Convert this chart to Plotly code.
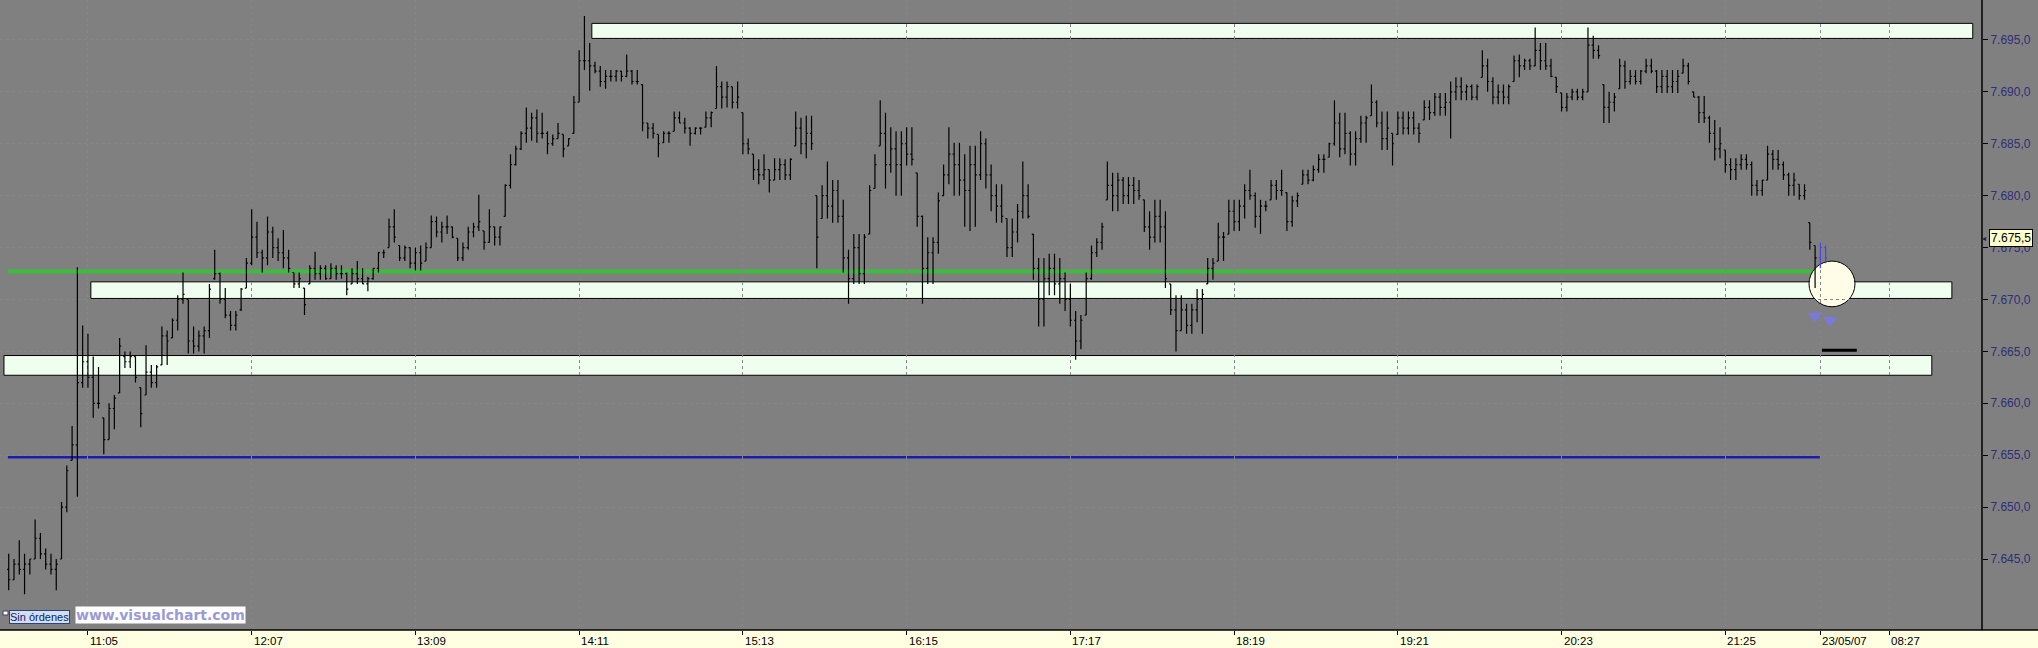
import plotly.graph_objects as go

# ---------------- data (2-minute bars, minutes since 11:05) ----------------
OPEN = [
7644.0,7643.0,7644.5,7644.0,7644.5,7645.0,7647.0,7645.5,7644.5,7644.0,
7645.0,7650.0,7654.5,7656.0,7662.0,7664.0,7662.5,7660.0,7658.6,7656.5,
7659.5,7661.0,7664.5,7664.0,7664.5,7661.5,7660.8,7663.0,7662.0,7663.7,
7666.5,7666.3,7668.0,7670.0,7670.0,7666.0,7665.5,7666.5,7667.0,7672.0,
7672.5,7670.0,7668.5,7667.5,7669.0,7671.1,7673.5,7676.0,7674.5,7674.0,
7676.5,7675.0,7674.5,7674.0,7672.6,7671.5,7671.1,7671.5,7673.0,7672.5,
7673.0,7672.0,7673.0,7672.5,7672.5,7671.5,7672.5,7672.0,7671.5,7672.0,
7673.0,7674.5,7675.0,7677.0,7675.2,7674.0,7675.0,7673.5,7674.5,7673.7,
7675.0,7677.5,7676.5,7677.0,7677.0,7675.9,7674.0,7675.0,7676.5,7677.0,
7676.6,7675.5,7677.0,7676.0,7678.0,7681.0,7683.0,7684.5,7686.0,7686.5,
7687.5,7686.0,7686.0,7685.0,7685.5,7685.9,7684.8,7686.0,7689.0,7693.0,
7693.0,7692.5,7692.0,7691.0,7691.5,7691.5,7692.0,7691.5,7692.0,7691.0,
7690.7,7687.0,7686.5,7685.9,7685.1,7686.0,7686.2,7687.5,7687.0,7686.5,
7686.0,7686.5,7686.6,7687.5,7688.4,7690.5,7689.5,7690.5,7689.0,7688.0,
7685.0,7684.0,7682.5,7682.0,7682.5,7681.5,7682.5,7683.0,7682.0,7684.8,
7686.5,7685.0,7686.0,7680.0,7677.8,7680.0,7679.0,7680.5,7678.0,7674.0,
7672.0,7675.0,7672.5,7676.3,7680.7,7684.8,7686.0,7683.0,7684.5,7683.0,
7685.0,7684.0,7682.2,7678.0,7673.0,7674.5,7675.5,7680.0,7682.0,7684.0,
7683.0,7681.5,7680.5,7683.0,7682.0,7685.0,7682.0,7680.0,7679.0,7677.8,
7675.0,7676.5,7678.5,7680.0,7676.3,7673.0,7670.0,7672.0,7673.0,7671.5,
7672.0,7670.0,7668.0,7666.0,7668.5,7672.0,7674.5,7675.5,7679.6,7681.0,
7680.0,7681.5,7680.0,7681.0,7680.5,7679.6,7677.0,7676.0,7678.0,7677.0,
7671.5,7669.0,7667.0,7669.0,7667.5,7669.0,7670.0,7671.5,7673.0,7673.7,
7676.0,7676.3,7678.5,7677.5,7679.0,7680.5,7680.0,7678.0,7679.0,7679.6,
7681.0,7680.5,7680.3,7677.5,7679.5,7681.1,7682.0,7681.5,7682.5,7683.5,
7683.7,7685.0,7687.0,7684.5,7686.0,7684.0,7685.5,7687.0,7687.7,7689.0,
7687.0,7685.5,7686.0,7685.9,7687.5,7686.5,7687.5,7686.5,7687.3,7688.5,
7688.0,7689.5,7688.5,7689.0,7690.0,7690.5,7690.0,7690.5,7689.5,7691.4,
7692.5,7691.0,7689.5,7690.0,7689.5,7691.0,7693.0,7692.5,7693.0,7692.5,
7694.0,7693.0,7692.5,7691.4,7689.9,7688.5,7689.5,7690.0,7689.5,7690.0,
7694.5,7694.0,7690.7,7688.5,7689.0,7690.3,7692.5,7691.0,7691.5,7691.0,
7692.0,7692.5,7692.0,7690.5,7691.5,7690.5,7691.0,7691.8,7692.5,7690.0,
7689.5,7688.0,7687.5,7686.0,7684.5,7684.4,7683.0,7682.5,7683.0,7683.5,
7683.0,7681.0,7680.5,7681.5,7684.0,7683.5,7683.0,7682.0,7681.0,7681.1,
7680.0,7677.4,7675.2,
]
HIGH = [
7645.5,7645.0,7646.8,7645.5,7645.0,7648.8,7647.5,7646.0,7645.5,7645.0,
7650.5,7654.0,7657.8,7673.1,7667.5,7666.7,7664.5,7663.5,7658.6,7660.0,
7660.8,7666.3,7665.0,7665.0,7664.5,7661.5,7665.6,7663.7,7663.7,7667.4,
7667.0,7668.2,7670.4,7672.6,7670.0,7667.4,7667.0,7667.4,7671.5,7674.8,
7672.6,7671.1,7668.9,7668.9,7671.1,7674.0,7678.7,7677.5,7674.8,7678.0,
7677.0,7675.9,7676.7,7674.8,7672.6,7672.6,7671.1,7673.3,7674.6,7673.3,
7673.3,7673.5,7673.3,7673.3,7672.6,7673.0,7673.7,7673.0,7672.2,7673.0,
7674.6,7674.8,7677.8,7678.7,7675.2,7675.2,7675.0,7675.0,7675.2,7675.5,
7678.1,7678.0,7677.5,7678.1,7677.0,7675.9,7675.5,7677.0,7677.4,7680.1,
7676.6,7678.7,7677.0,7677.0,7681.1,7684.0,7684.8,7686.2,7688.5,7688.0,
7688.3,7688.0,7686.2,7685.9,7687.0,7685.9,7685.5,7689.6,7694.0,7697.3,
7694.7,7692.9,7692.5,7692.1,7692.1,7692.1,7692.0,7693.6,7692.1,7692.1,
7690.7,7687.0,7687.0,7685.9,7686.2,7686.2,7688.1,7688.1,7687.5,7686.6,
7686.6,7686.6,7688.1,7688.1,7692.5,7691.0,7691.0,7690.5,7691.0,7688.0,
7685.5,7684.0,7683.5,7684.0,7682.5,7683.6,7683.6,7683.5,7683.6,7688.1,
7687.5,7687.7,7687.7,7680.0,7681.0,7683.3,7681.5,7681.5,7679.6,7674.8,
7676.3,7676.3,7676.3,7681.0,7684.0,7689.2,7688.0,7686.6,7686.2,7686.2,
7686.6,7686.6,7682.2,7678.1,7676.0,7676.0,7680.3,7683.0,7686.6,7685.1,
7685.1,7684.0,7684.8,7684.8,7686.2,7685.5,7683.0,7681.1,7681.1,7677.8,
7677.8,7679.2,7683.3,7681.1,7676.3,7674.0,7674.0,7674.4,7674.4,7674.0,
7672.6,7671.5,7668.9,7668.5,7672.6,7675.2,7675.9,7677.4,7683.3,7682.2,
7682.2,7681.8,7681.8,7681.8,7681.5,7679.6,7678.5,7679.6,7679.6,7678.5,
7671.5,7670.4,7670.4,7669.6,7669.6,7671.0,7671.0,7674.0,7674.0,7677.4,
7676.5,7679.6,7679.6,7679.6,7681.1,7682.5,7680.3,7679.6,7679.5,7681.5,
7681.5,7682.5,7680.3,7680.0,7680.3,7682.5,7682.5,7682.9,7684.0,7684.0,
7685.1,7689.2,7688.0,7688.0,7686.2,7686.2,7687.7,7687.7,7690.7,7689.2,
7688.1,7688.1,7686.0,7688.1,7688.1,7688.1,7688.1,7687.0,7689.2,7689.2,
7689.9,7689.9,7689.9,7691.0,7691.4,7691.4,7690.7,7690.7,7690.7,7694.0,
7693.2,7691.4,7690.7,7690.7,7690.7,7693.5,7693.6,7693.2,7693.2,7696.2,
7694.7,7694.7,7693.2,7691.4,7689.9,7689.9,7690.3,7690.3,7690.3,7696.2,
7695.4,7694.5,7690.7,7690.0,7689.9,7693.2,7693.0,7692.1,7692.1,7692.1,
7693.2,7693.2,7692.1,7692.1,7692.1,7692.1,7692.1,7693.2,7692.8,7690.0,
7689.6,7689.6,7687.7,7687.3,7686.6,7684.4,7683.6,7683.6,7684.0,7684.0,
7683.3,7681.5,7681.5,7684.8,7684.4,7684.4,7683.3,7682.2,7682.2,7681.1,
7681.1,7677.4,7675.2,
]
LOW = [
7642.0,7643.0,7643.5,7641.6,7643.5,7645.0,7645.0,7644.0,7643.5,7642.0,
7645.0,7649.5,7654.5,7651.0,7661.5,7661.5,7658.6,7659.5,7655.1,7656.5,
7657.5,7661.0,7663.4,7663.4,7662.0,7657.7,7660.8,7661.5,7661.5,7663.7,
7663.7,7666.3,7667.0,7669.6,7664.8,7664.8,7665.0,7664.8,7666.3,7671.9,
7669.6,7668.2,7667.0,7667.0,7668.9,7671.1,7673.3,7674.0,7672.6,7673.3,
7674.0,7673.7,7673.0,7672.6,7671.1,7671.1,7668.5,7671.5,7671.9,7671.9,
7671.9,7672.0,7671.9,7672.0,7670.4,7671.5,7671.5,7671.5,7670.8,7671.9,
7672.6,7674.0,7675.0,7675.5,7673.7,7673.7,7673.0,7672.8,7672.8,7673.7,
7675.0,7676.0,7675.5,7676.3,7675.9,7673.7,7673.7,7674.8,7676.0,7676.6,
7674.8,7675.5,7675.2,7675.2,7678.0,7680.7,7682.9,7684.4,7685.1,7685.3,
7685.1,7685.5,7684.0,7684.8,7685.5,7683.7,7684.8,7686.0,7689.0,7692.1,
7690.1,7691.8,7690.5,7690.3,7691.0,7691.0,7691.0,7691.4,7690.7,7690.7,
7686.2,7685.5,7685.5,7683.7,7685.1,7685.1,7686.2,7687.0,7686.0,7684.8,
7685.9,7685.9,7686.6,7686.6,7688.4,7688.4,7688.5,7688.4,7688.4,7684.0,
7684.0,7681.5,7681.1,7681.5,7680.3,7681.5,7681.5,7681.5,7681.5,7684.8,
7684.0,7683.6,7684.4,7673.0,7677.8,7677.8,7677.4,7677.4,7672.6,7669.6,
7671.5,7671.5,7671.5,7676.3,7680.7,7684.8,7680.7,7682.2,7680.0,7680.0,
7682.9,7682.9,7677.0,7669.6,7671.5,7671.5,7674.4,7680.0,7681.1,7680.0,
7680.0,7677.0,7676.6,7677.0,7681.5,7680.7,7678.5,7677.4,7677.4,7674.1,
7674.1,7675.5,7677.8,7677.8,7671.9,7667.4,7667.4,7670.4,7670.4,7669.6,
7668.9,7667.4,7664.2,7665.2,7668.5,7671.9,7674.1,7674.8,7679.6,7678.5,
7678.5,7679.2,7679.2,7679.2,7679.6,7676.5,7674.8,7675.5,7675.5,7671.1,
7668.5,7665.0,7667.0,7666.7,7666.7,7667.8,7666.7,7671.5,7671.9,7673.7,
7673.7,7676.3,7676.6,7676.6,7677.8,7679.6,7676.9,7676.3,7678.5,7679.6,
7679.6,7680.0,7676.6,7677.0,7678.9,7681.1,7681.1,7681.4,7682.2,7682.2,
7683.7,7684.8,7683.7,7684.0,7682.9,7682.9,7685.1,7685.1,7687.7,7686.6,
7684.4,7684.4,7682.9,7685.9,7685.9,7685.9,7685.9,7685.1,7687.3,7687.3,
7687.7,7687.7,7687.7,7685.5,7689.2,7689.2,7689.2,7689.2,7689.2,7691.4,
7690.0,7688.8,7688.8,7688.8,7688.8,7691.0,7691.4,7692.1,7692.1,7692.5,
7692.1,7692.1,7691.4,7689.9,7688.1,7688.1,7689.2,7689.2,7689.2,7690.0,
7693.2,7693.2,7687.0,7687.0,7688.1,7690.3,7690.3,7690.7,7690.7,7690.7,
7691.8,7691.8,7689.9,7689.9,7689.9,7689.9,7689.9,7691.8,7690.7,7689.5,
7687.0,7687.0,7685.1,7683.4,7683.6,7682.2,7681.5,7681.5,7682.5,7682.5,
7680.0,7680.0,7680.0,7681.5,7682.5,7682.5,7681.5,7680.0,7680.0,7679.6,
7679.6,7674.8,7671.1,
]
CLOSE = [
7643.0,7644.5,7644.0,7644.5,7645.0,7647.0,7645.5,7644.5,7644.0,7644.5,
7650.0,7653.5,7656.0,7662.0,7664.0,7662.5,7660.0,7660.0,7656.5,7659.5,
7660.5,7665.5,7664.0,7664.5,7662.5,7659.0,7663.0,7662.0,7663.5,7666.5,
7666.0,7668.0,7670.0,7670.5,7666.0,7665.5,7666.5,7667.0,7671.0,7672.5,
7670.0,7668.5,7667.5,7668.5,7671.0,7673.5,7676.0,7674.5,7674.0,7676.5,
7675.0,7674.5,7674.0,7673.0,7671.5,7672.0,7669.5,7673.0,7672.5,7673.0,
7672.0,7673.0,7672.5,7672.5,7671.0,7672.5,7672.0,7671.5,7672.0,7673.0,
7674.5,7674.5,7677.0,7676.0,7674.0,7675.0,7673.5,7674.5,7673.5,7675.0,
7677.5,7676.5,7677.0,7677.0,7676.0,7674.0,7675.0,7676.5,7677.0,7677.5,
7675.5,7677.0,7676.0,7677.0,7681.0,7683.0,7684.5,7686.0,7686.5,7687.5,
7686.0,7686.0,7685.0,7685.5,7686.0,7684.5,7685.5,7689.0,7693.0,7693.0,
7692.5,7692.0,7691.0,7691.5,7691.5,7692.0,7691.5,7692.0,7691.0,7691.0,
7687.0,7686.5,7686.0,7685.0,7686.0,7686.0,7687.5,7687.0,7686.5,7686.0,
7686.5,7686.5,7687.5,7688.0,7690.5,7689.5,7690.5,7689.0,7689.5,7685.0,
7684.5,7682.5,7682.0,7682.5,7681.5,7682.5,7683.0,7682.0,7683.5,7686.5,
7685.0,7686.0,7685.0,7676.0,7680.0,7679.0,7680.5,7678.0,7674.0,7672.0,
7675.0,7672.5,7676.0,7680.5,7683.0,7686.0,7683.0,7684.5,7683.0,7685.0,
7684.0,7683.5,7678.0,7673.0,7674.5,7675.5,7679.5,7682.0,7684.0,7683.0,
7681.5,7680.5,7683.0,7682.0,7685.0,7682.0,7680.0,7679.0,7678.0,7675.0,
7676.5,7678.5,7680.0,7678.0,7673.0,7670.0,7672.0,7673.0,7671.5,7672.0,
7670.0,7668.0,7666.0,7668.0,7672.0,7674.5,7675.5,7677.0,7681.0,7680.0,
7681.5,7680.0,7681.0,7680.5,7680.0,7677.0,7676.0,7678.0,7677.0,7672.0,
7669.0,7667.0,7669.0,7667.5,7669.0,7670.0,7670.5,7673.0,7673.5,7676.0,
7676.0,7678.5,7677.5,7679.0,7680.5,7680.0,7678.0,7679.0,7679.0,7681.0,
7680.5,7680.5,7677.5,7679.5,7680.0,7682.0,7681.5,7682.5,7683.5,7683.5,
7685.0,7687.0,7684.5,7686.0,7684.0,7685.5,7687.0,7687.5,7689.0,7687.0,
7685.5,7686.5,7685.0,7687.5,7686.5,7687.5,7686.5,7686.0,7688.5,7688.0,
7689.5,7688.5,7689.0,7690.0,7690.5,7690.0,7690.5,7689.5,7690.5,7692.5,
7691.0,7689.5,7690.0,7689.5,7690.5,7693.0,7692.5,7693.0,7692.5,7694.0,
7693.0,7692.5,7691.5,7690.5,7688.5,7689.5,7690.0,7689.5,7690.0,7694.5,
7694.0,7693.5,7688.5,7689.0,7689.5,7692.5,7691.0,7691.5,7691.0,7692.0,
7692.5,7692.0,7690.5,7691.5,7690.5,7691.0,7691.5,7692.5,7691.0,7689.5,
7688.0,7687.5,7686.0,7684.5,7685.0,7683.0,7682.5,7683.0,7683.5,7683.0,
7681.0,7680.5,7681.5,7684.0,7683.5,7683.0,7682.0,7681.0,7681.5,7680.0,
7680.5,7675.5,7674.0,
]
# first bars of the next session (23/05/07), drawn in blue
NEXT_X = [656, 658]
NEXT_OPEN = [7674.0, 7675.0]
NEXT_HIGH = [7675.5, 7675.2]
NEXT_LOW = [7673.0, 7673.5]
NEXT_CLOSE = [7675.0, 7674.0]

FIRST_BAR = -30          # minutes relative to 11:05 of the first bar
BAR_STEP = 2             # minutes per bar
BAR_X = [FIRST_BAR + BAR_STEP * i for i in range(len(HIGH))]

TICK_POS = [0, 62, 124, 186, 248, 310, 372, 434, 496, 558, 620, 656, 682]
TICK_TEXT = ["11:05", "12:07", "13:09", "14:11", "15:13", "16:15", "17:17",
             "18:19", "19:21", "20:23", "21:25", "23/05/07", "08:27"]
PRICE_TICKS = [7645, 7650, 7655, 7660, 7665, 7670, 7675, 7680, 7685, 7690, 7695]
PRICE_TEXT = ["7.645,0", "7.650,0", "7.655,0", "7.660,0", "7.665,0", "7.670,0",
              "7.675,0", "7.680,0", "7.685,0", "7.690,0", "7.695,0"]

# drawn objects (x in minutes, y in price)
ZONES = [  # x0, x1, y0, y1
    (190.8, 713.7, 7695.15, 7696.6),
    (1.1, 705.8, 7670.1, 7671.7),
    (-31.8, 698.2, 7662.7, 7664.6),
]
GREEN_LEVEL = (-30.3, 654.7, 7672.7)
BLUE_LEVEL = (-30.3, 655.8, 7654.8)
TARGET_LEVEL = (656.6, 669.8, 7665.1)
CIRCLE = (651.7, 669.1, 7669.3, 7673.7)
ARROWS_X = [653.9, 659.6]
ARROWS_Y = [7668.4, 7668.0]
LAST_PRICE = 7675.5
LAST_PRICE_TEXT = "7.675,5"

X_RANGE = [-33.3, 717.2]
Y_RANGE = [7638.16, 7698.85]

GRAY = "#808080"
GRID = "#868686"
FONT = "Liberation Sans, Arial, sans-serif"

fig = go.Figure()
fig.add_trace(go.Ohlc(
    x=BAR_X, open=OPEN, high=HIGH, low=LOW, close=CLOSE,
    increasing=dict(line=dict(color="#000000", width=1.2)),
    decreasing=dict(line=dict(color="#000000", width=1.2)),
    tickwidth=0.3, hoverinfo="skip", showlegend=False))
fig.add_trace(go.Ohlc(
    x=NEXT_X, open=NEXT_OPEN, high=NEXT_HIGH, low=NEXT_LOW, close=NEXT_CLOSE,
    increasing=dict(line=dict(color="#4a4ad8", width=1.2)),
    decreasing=dict(line=dict(color="#4a4ad8", width=1.2)),
    tickwidth=0.3, hoverinfo="skip", showlegend=False))
fig.add_trace(go.Scatter(
    x=ARROWS_X, y=ARROWS_Y, mode="markers",
    marker=dict(symbol="triangle-down", size=13, color="rgba(120,120,230,0.9)",
                line=dict(width=0)),
    hoverinfo="skip", showlegend=False))

shapes = []
for x0, x1, y0, y1 in ZONES:
    shapes.append(dict(type="rect", xref="x", yref="y", x0=x0, x1=x1, y0=y0, y1=y1,
                       fillcolor="#effeef", line=dict(color="#000000", width=1),
                       layer="below"))
shapes.append(dict(type="line", xref="x", yref="y", x0=GREEN_LEVEL[0], x1=GREEN_LEVEL[1],
                   y0=GREEN_LEVEL[2], y1=GREEN_LEVEL[2],
                   line=dict(color="#3dbd3d", width=4), layer="below"))
shapes.append(dict(type="line", xref="x", yref="y", x0=BLUE_LEVEL[0], x1=BLUE_LEVEL[1],
                   y0=BLUE_LEVEL[2], y1=BLUE_LEVEL[2],
                   line=dict(color="#1c1cb0", width=2.5), layer="below"))
shapes.append(dict(type="circle", xref="x", yref="y", x0=CIRCLE[0], x1=CIRCLE[1],
                   y0=CIRCLE[2], y1=CIRCLE[3], fillcolor="#fffde8",
                   line=dict(color="#000000", width=1), layer="below"))
shapes.append(dict(type="line", xref="x", yref="y", x0=TARGET_LEVEL[0], x1=TARGET_LEVEL[1],
                   y0=TARGET_LEVEL[2], y1=TARGET_LEVEL[2],
                   line=dict(color="#000000", width=3), layer="above"))
# bottom time band and frame lines
shapes.append(dict(type="rect", xref="paper", yref="paper", x0=0, x1=1.03, y0=-0.03, y1=0,
                   fillcolor="#ffffe1", line=dict(width=0), layer="below"))
shapes.append(dict(type="line", xref="paper", yref="paper", x0=0, x1=1.03, y0=0, y1=0,
                   line=dict(color="#000000", width=1.5), layer="above"))
shapes.append(dict(type="line", xref="paper", yref="paper", x0=1, x1=1, y0=0, y1=1,
                   line=dict(color="#000000", width=1.5), layer="above"))
# small order marker square
shapes.append(dict(type="rect", xref="paper", yref="paper", x0=3 / 1982, x1=8 / 1982,
                   y0=(630 - 615) / 630, y1=(630 - 611) / 630, fillcolor="#ffffff",
                   line=dict(color="#404060", width=1), layer="above"))

annotations = []
for pos, txt in zip(TICK_POS, TICK_TEXT):
    annotations.append(dict(x=pos, y=-10.5 / 630, xref="x", yref="paper", text=txt,
                            showarrow=False, xanchor="left", yanchor="middle", xshift=0,
                            font=dict(family=FONT, size=11.5, color="#000000")))
annotations.append(dict(x=1989 / 1982, y=LAST_PRICE, xref="paper", yref="y",
                        text=LAST_PRICE_TEXT, showarrow=False, xanchor="left",
                        yanchor="middle", yshift=4, bgcolor="#ffffcc",
                        bordercolor="#000000", borderwidth=1, borderpad=1,
                        font=dict(family=FONT, size=12, color="#000000")))
annotations.append(dict(x=1988 / 1982, y=LAST_PRICE, xref="paper", yref="y", text="◂",
                        showarrow=False, xanchor="right", yanchor="middle", yshift=4,
                        font=dict(family=FONT, size=8, color="#202040")))
annotations.append(dict(x=9 / 1982, y=(630 - 617) / 630, xref="paper", yref="paper",
                        text="Sin órdenes", showarrow=False, xanchor="left",
                        yanchor="middle", bgcolor="#cfe0f2", bordercolor="#30407a",
                        borderwidth=1, borderpad=0,
                        font=dict(family=FONT, size=11, color="#102060")))
annotations.append(dict(x=75 / 1982, y=(630 - 615) / 630, xref="paper", yref="paper",
                        text="www.visualchart.com", showarrow=False, xanchor="left",
                        yanchor="middle", bgcolor="#ffffff", borderpad=0,
                        font=dict(family="DejaVu Sans", size=14, weight="bold",
                                  color="#9a9ad6")))

fig.update_layout(
    width=2038, height=648, autosize=False,
    margin=dict(l=0, r=56, t=0, b=18, pad=0),
    paper_bgcolor=GRAY, plot_bgcolor=GRAY,
    showlegend=False, shapes=shapes, annotations=annotations,
    hovermode=False,
    xaxis=dict(range=X_RANGE, type="linear", rangeslider=dict(visible=False),
               tickmode="array", tickvals=TICK_POS, showticklabels=False,
               ticks="outside", ticklen=4, tickcolor="#000000",
               showgrid=True, gridcolor=GRID, griddash="dot", gridwidth=1,
               zeroline=False, showline=False, fixedrange=True),
    yaxis=dict(range=Y_RANGE, side="right", tickmode="array", tickvals=PRICE_TICKS,
               ticktext=PRICE_TEXT, ticks="outside", ticklen=5, tickcolor="#000000",
               tickfont=dict(family=FONT, size=12, color="#2e2e78"),
               showgrid=True, gridcolor=GRID, griddash="dot", gridwidth=1,
               zeroline=False, showline=False, fixedrange=True),
)

fig.write_html("out.html", config={"displayModeBar": False},
               post_script="document.body.style.margin='0';"
                           "document.body.style.overflow='hidden';")
